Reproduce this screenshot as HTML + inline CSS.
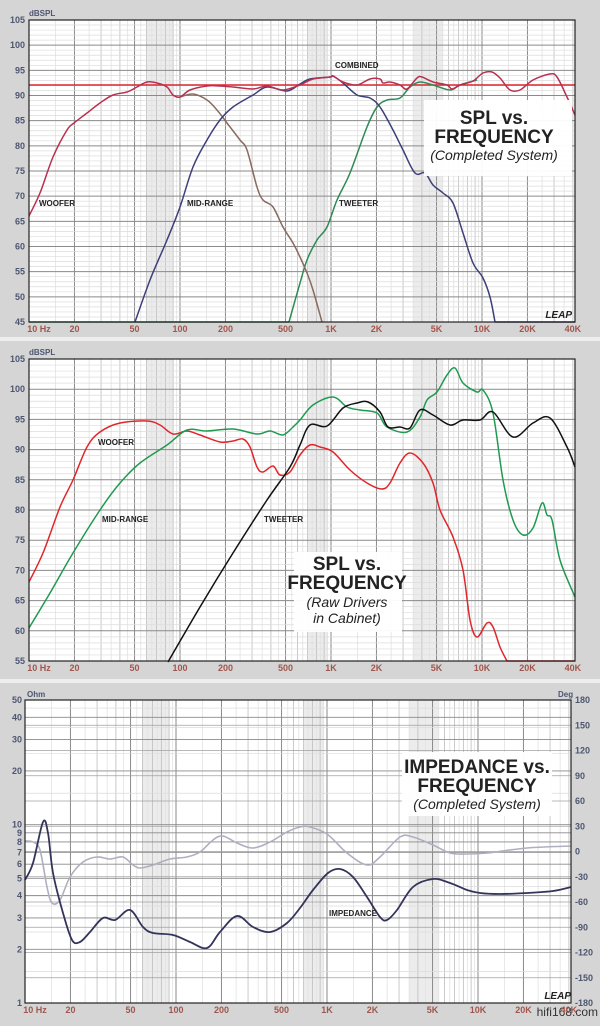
<!DOCTYPE html>
<html><head><meta charset="utf-8">
<style>
html,body{margin:0;padding:0;background:#d5d5d5;}
svg{display:block;}
text{font-family:"Liberation Sans",sans-serif;}
.yl{font-size:9px;font-weight:bold;fill:#4d5670;text-anchor:end;}
.xl{font-size:9px;font-weight:bold;fill:#a0564c;text-anchor:middle;}
.lab{font-size:8px;font-weight:bold;fill:#222;}
.t1{font-size:19px;font-weight:bold;fill:#222;text-anchor:middle;}
.t2{font-size:14px;font-style:italic;fill:#222;text-anchor:middle;}
</style></head><body>
<svg id="s" width="600" height="1026" viewBox="0 0 600 1026" xmlns="http://www.w3.org/2000/svg">
<rect width="600" height="1026" fill="#d5d5d5"/>
<rect x="0" y="337" width="600" height="4" fill="#eeeeee"/>
<rect x="0" y="679" width="600" height="4" fill="#eeeeee"/>
<g id="grid"></g>

<!-- Panel 1 curves -->
<g fill="none" stroke-width="1.5" stroke-linejoin="round" class="curves">
<line x1="29" y1="85" x2="575" y2="85" stroke="#d8262e" stroke-width="1.5"/>
<line x1="29" y1="322" x2="289" y2="322" stroke="#2e8a55" stroke-width="1.5"/>
<polyline stroke="#2e8a55" points="289,322 300,283 307,260 317,240 327,227 337,200 350,173 367,127 377,107 387,100 400,98 410,87 420,82 433,85 450,90 460,85 477,80"/>
<polyline stroke="#8a6a5e" points="180,97 193,94 207,100 217,110 227,123 240,140 247,150 257,187 263,200 273,207 283,227 293,243 300,257 307,273 313,290 322,322"/>
<polyline stroke="#3d3f78" points="135,322 150,280 167,240 180,207 193,167 207,140 220,120 233,107 253,95 267,87 287,91 300,84 310,79 330,77 333,76 343,83 357,95 370,98 380,107 393,130 403,150 415,173 425,173 433,185 443,193 453,203 463,233 473,263 483,278 490,297 495,322"/>
<line x1="495" y1="322" x2="575" y2="322" stroke="#3d3f78" stroke-width="1.5"/>
<polyline stroke="#b83050" points="29,216 40,193 53,157 67,130 74,123 87,113 100,103 113,95 127,92 137,87 147,82 157,83 167,87 173,95 180,97 190,90 207,86 220,86 233,87 253,89 267,86 283,90 300,85 313,79 330,77 333,76 343,82 357,85 370,79 380,79 383,83 390,82 400,85 407,89 417,78 422,77 433,82 447,85 452,89 460,85 473,81 483,73 492,72 500,78 510,90 520,90 533,80 550,74 557,77 567,97 575,115"/>
</g>
<!-- Panel 2 curves -->
<g fill="none" stroke-width="1.5" stroke-linejoin="round" class="curves">
<polyline stroke="#e0262b" points="29,582 43,553 60,507 73,480 87,447 100,432 120,423 147,421 160,425 173,434 187,431 200,435 220,442 233,441 243,439 250,447 257,467 263,472 273,466 280,475 290,472 300,455 310,445 320,447 333,452 350,470 367,483 382,489 390,483 400,463 410,453 423,463 433,483 440,510 453,537 463,570 470,620 477,637 487,623 493,627 500,647 507,661"/>
<line x1="507" y1="661" x2="575" y2="661" stroke="#e0262b" stroke-width="1.5"/>
<polyline stroke="#1f9a50" points="29,628 50,593 73,553 100,510 120,483 140,463 167,445 187,430 207,431 233,429 257,434 270,431 283,435 293,427 300,420 313,405 333,397 347,407 360,410 377,413 387,427 407,432 420,417 427,400 437,392 447,375 455,368 463,383 477,392 483,390 493,413 503,480 513,520 523,535 533,528 542,503 547,515 552,520 560,560 575,597"/>
<polyline stroke="#111" points="168,662 200,607 233,553 267,500 290,467 300,445 310,425 327,426 343,408 357,403 368,402 380,412 388,427 400,427 410,428 420,410 433,415 450,425 463,420 480,420 493,412 513,437 533,423 550,418 567,447 575,467"/>
</g>
<!-- Panel 3 curves -->
<g fill="none" stroke-width="1.6" stroke-linejoin="round" class="curves">
<polyline stroke="#aeb0c0" points="25,841 33,842 40,850 47,887 52,903 60,900 70,877 83,862 97,857 110,859 123,857 133,865 140,868 153,865 170,859 187,857 200,852 213,840 223,836 237,843 253,848 270,842 287,832 300,827 310,827 327,834 347,853 367,865 380,857 400,837 413,837 433,845 450,853 467,854 487,853 527,848 571,846"/>
<polyline stroke="#34345a" stroke-width="1.8" points="25,880 33,863 43,822 48,833 53,873 63,913 72,940 80,942 90,932 103,918 115,920 130,910 143,927 153,933 173,935 190,942 207,948 220,932 237,916 253,927 270,932 287,923 300,908 313,890 328,873 340,869 353,877 367,897 380,917 387,920 397,910 413,887 433,879 450,883 467,890 480,893 500,894 527,893 553,891 571,887"/>
</g>

<!-- frames -->
<g fill="none" stroke="#222" stroke-width="1.2">
<rect x="29" y="20" width="546" height="302"/>
<rect x="29" y="359" width="546" height="302"/>
<rect x="25" y="700" width="546" height="303"/>
</g>

<!-- title boxes -->
<rect x="424" y="100" width="148" height="76" fill="#fff" opacity="0.95"/>
<text class="t1" x="494" y="124">SPL vs.</text>
<text class="t1" x="494" y="143">FREQUENCY</text>
<text class="t2" x="494" y="160">(Completed System)</text>
<rect x="294" y="552" width="108" height="80" fill="#fff" opacity="0.95"/>
<text class="t1" x="347" y="570">SPL vs.</text>
<text class="t1" x="347" y="589">FREQUENCY</text>
<text class="t2" x="347" y="607">(Raw Drivers</text>
<text class="t2" x="347" y="623">in Cabinet)</text>
<rect x="402" y="752" width="150" height="64" fill="#fff" opacity="0.95"/>
<text class="t1" x="477" y="773">IMPEDANCE vs.</text>
<text class="t1" x="477" y="792">FREQUENCY</text>
<text class="t2" x="477" y="809">(Completed System)</text>

<!-- series labels -->
<text class="lab" x="39" y="206">WOOFER</text>
<text class="lab" x="187" y="206">MID-RANGE</text>
<text class="lab" x="339" y="206">TWEETER</text>
<text class="lab" x="335" y="68">COMBINED</text>
<text class="lab" x="98" y="445">WOOFER</text>
<text class="lab" x="102" y="522">MID-RANGE</text>
<text class="lab" x="264" y="522">TWEETER</text>
<text class="lab" x="329" y="916">IMPEDANCE</text>

<!-- axis titles -->
<text x="29" y="16" style="font-size:8px;font-weight:bold;fill:#4d5670">dBSPL</text>
<text x="29" y="355" style="font-size:8px;font-weight:bold;fill:#4d5670">dBSPL</text>
<text x="27" y="697" style="font-size:8px;font-weight:bold;fill:#4d5670">Ohm</text>
<text x="558" y="697" style="font-size:8px;font-weight:bold;fill:#4d5670">Deg</text>
<text x="572" y="318" style="font-size:10px;font-weight:bold;font-style:italic;fill:#222;text-anchor:end">LEAP</text>
<text x="571" y="999" style="font-size:10px;font-weight:bold;font-style:italic;fill:#222;text-anchor:end">LEAP</text>
<text x="598" y="1016" style="font-size:12px;fill:#333;text-anchor:end">hifi168.com</text>
<g id="labels"></g>
</svg>
<script>
(function(){
var NS="http://www.w3.org/2000/svg";
var grid=document.getElementById('grid'), labs=document.getElementById('labels');
function el(p,t,a,txt){var e=document.createElementNS(NS,t);for(var k in a)e.setAttribute(k,a[k]);if(txt!==undefined)e.textContent=txt;p.appendChild(e);return e;}
var panels=[{x0:29,x1:575,y0:20,y1:322,type:'db',lo:45,hi:105},{x0:29,x1:575,y0:359,y1:661,type:'db',lo:55,hi:105},{x0:25,x1:571,y0:700,y1:1003,type:'ohm'}];
var dec=151;
panels.forEach(function(P){
  el(grid,'rect',{x:P.x0,y:P.y0,width:P.x1-P.x0,height:P.y1-P.y0,fill:'#fff'});
  function fx(f){return P.x0+dec*Math.log10(f/10);}
  [[60,90],[700,950],[3500,5500]].forEach(function(b){el(grid,'rect',{x:fx(b[0]),y:P.y0,width:fx(b[1])-fx(b[0]),height:P.y1-P.y0,fill:'#ececec'});});
  for(var d=10;d<=10000;d*=10){for(var m=1;m<10;m+=0.5){var f=d*m;if(f>40000)break;var x=fx(f);if(x>P.x1)break;
    var major=(m==1||m==2||m==5);var half=(m%1!=0);
    el(grid,'line',{x1:x,x2:x,y1:P.y0,y2:P.y1,stroke:major?'#8a8a8a':(half?'#e2e2e2':'#bdbdbd'),'stroke-width':major?1:0.8});}}
  if(P.type=='db'){
    var n=P.hi-P.lo,sp=(P.y1-P.y0)/n;
    for(var i=0;i<=n;i++){var y=P.y1-i*sp;var mj=((P.lo+i)%5==0);
      el(grid,'line',{x1:P.x0,x2:P.x1,y1:y,y2:y,stroke:mj?'#8a8a8a':'#dcdcdc','stroke-width':mj?1:0.7});
      if(mj)el(labs,'text',{'class':'yl',x:P.x0-4,y:y+3},String(P.lo+i));}
  } else {
    var pd=(P.y1-P.y0)/Math.log10(50);
    function oy(v){return P.y1-pd*Math.log10(v);}
    [1,2,3,4,5,6,7,8,9,10,20,30,40,50].forEach(function(v){var y=oy(v);
      el(grid,'line',{x1:P.x0,x2:P.x1,y1:y,y2:y,stroke:'#8a8a8a','stroke-width':0.9});
      el(labs,'text',{'class':'yl',x:P.x0-3,y:y+3},String(v));});
    [1.5,2.5,3.5,4.5,15,25,35,45].forEach(function(v){var y=oy(v);el(grid,'line',{x1:P.x0,x2:P.x1,y1:y,y2:y,stroke:'#dcdcdc','stroke-width':0.7});});
    for(var dg=-180;dg<=180;dg+=30){var y=P.y1-(dg+180)/360*(P.y1-P.y0);
      el(grid,'line',{x1:P.x0,x2:P.x1,y1:y,y2:y,stroke:'#a0a0a0','stroke-width':0.8});
      el(labs,'text',{x:P.x1+4,y:y+3,style:'font-size:9px;font-weight:bold;fill:#4d5670'},String(dg));}
  }
  var yl=P.y1+10;
  [[10,'10  Hz'],[20,'20'],[50,'50'],[100,'100'],[200,'200'],[500,'500'],[1000,'1K'],[2000,'2K'],[5000,'5K'],[10000,'10K'],[20000,'20K'],[40000,'40K']].forEach(function(t){
    var x=fx(t[0]);if(t[0]==10)x+=10;el(labs,'text',{'class':'xl',x:x,y:yl},t[1]);});
});
var pls=document.querySelectorAll('.curves polyline');
for(var k=0;k<pls.length;k++){var pl=pls[k];
  var pts=pl.getAttribute('points').trim().split(/\s+/).map(function(s){var a=s.split(',');return [+a[0],+a[1]];});
  var d='M'+pts[0][0]+','+pts[0][1];
  for(var i=0;i<pts.length-1;i++){var p0=pts[i-1]||pts[i],p1=pts[i],p2=pts[i+1],p3=pts[i+2]||p2;
    var c1=[p1[0]+(p2[0]-p0[0])/6,p1[1]+(p2[1]-p0[1])/6],c2=[p2[0]-(p3[0]-p1[0])/6,p2[1]-(p3[1]-p1[1])/6];
    d+=' C'+c1[0].toFixed(1)+','+c1[1].toFixed(1)+' '+c2[0].toFixed(1)+','+c2[1].toFixed(1)+' '+p2[0]+','+p2[1];}
  var path=document.createElementNS(NS,'path');path.setAttribute('d',d);
  ['stroke','stroke-width'].forEach(function(a){if(pl.getAttribute(a))path.setAttribute(a,pl.getAttribute(a));});
  pl.parentNode.replaceChild(path,pl);}
})();
</script>
</body></html>
